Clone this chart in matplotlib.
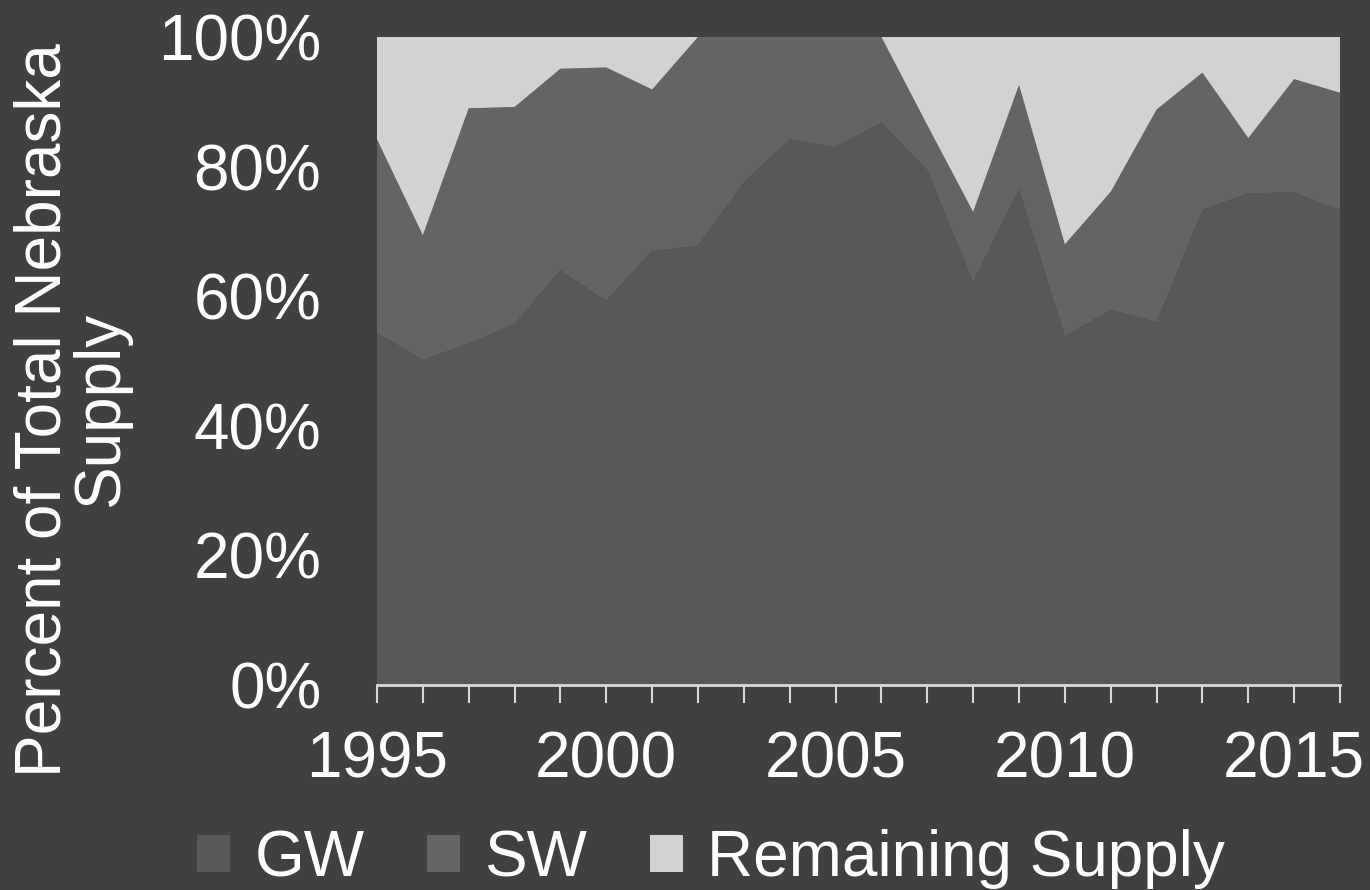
import matplotlib
matplotlib.use("Agg")
import matplotlib.pyplot as plt
from matplotlib.patches import Patch
import numpy as np

years = list(range(1995, 2017))
gw = [54.3, 50.2, 52.7, 55.7, 64.0, 59.3, 67.0, 67.8, 77.6, 84.2, 83.0, 86.8,
      79.4, 62.2, 76.5, 53.8, 57.9, 56.0, 73.3, 75.9, 76.0, 73.3]
total = [84.2, 69.4, 89.0, 89.2, 95.1, 95.3, 91.9, 100.0, 100.0, 100.0, 100.0, 100.0,
         86.4, 73.0, 92.6, 68.0, 76.1, 88.8, 94.5, 84.4, 93.5, 91.4]
sw = [t - g for t, g in zip(total, gw)]
remaining = [100.0 - t for t in total]
series_names = ["GW", "SW", "Remaining Supply"]
colors = ["#585858", "#646464", "#d2d2d2"]
xtick_labels = ["1995", "2000", "2005", "2010", "2015"]
ytick_labels = ["0%", "20%", "40%", "60%", "80%", "100%"]

bg = "#404040"
fam = ["Liberation Sans", "DejaVu Sans"]
plt.rcParams["font.family"] = fam
FS = 46

fig = plt.figure(figsize=(13.7, 8.9), dpi=100, facecolor=bg)
ax = fig.add_axes([377/1370, 1-685/890, (1340-377)/1370, (685-37)/890])
ax.set_facecolor(bg)

ax.stackplot(years, np.array(gw)/100, np.array(sw)/100, np.array(remaining)/100,
             colors=colors, linewidth=0)

ax.set_xlim(1995, 2016)
ax.set_ylim(0, 1)
ax.set_xticks(years)
ax.set_xticklabels([str(y) if str(y) in xtick_labels else "" for y in years])
ax.set_yticks(np.linspace(0, 1, 6))
ax.set_yticklabels(ytick_labels)

for s in ["left", "right", "top"]:
    ax.spines[s].set_visible(False)
ax.spines["bottom"].set_color("#d9d9d9")
ax.spines["bottom"].set_linewidth(2)
ax.spines["bottom"].set_zorder(5)

ax.tick_params(axis="x", colors="#d9d9d9", length=13, width=1.5, direction="out",
               labelsize=FS, labelcolor="white", pad=20)
ax.tick_params(axis="y", length=0, labelsize=FS, labelcolor="white", pad=40)

ax.set_ylabel("Percent of Total Nebraska\nSupply", fontsize=FS, color="white",
              linespacing=0.95)
ax.yaxis.set_label_coords(-0.255, 0.425)

handles = [Patch(facecolor=c, edgecolor="none") for c in colors]
leg = fig.legend(handles, series_names, loc="lower center", bbox_to_anchor=(0.519, -0.064),
                 ncol=3, frameon=False, fontsize=FS, labelcolor="white",
                 handlelength=0.52, handleheight=0.52, handletextpad=0.38, columnspacing=0.98)

fig.savefig("out.png", dpi=100, facecolor=bg)
